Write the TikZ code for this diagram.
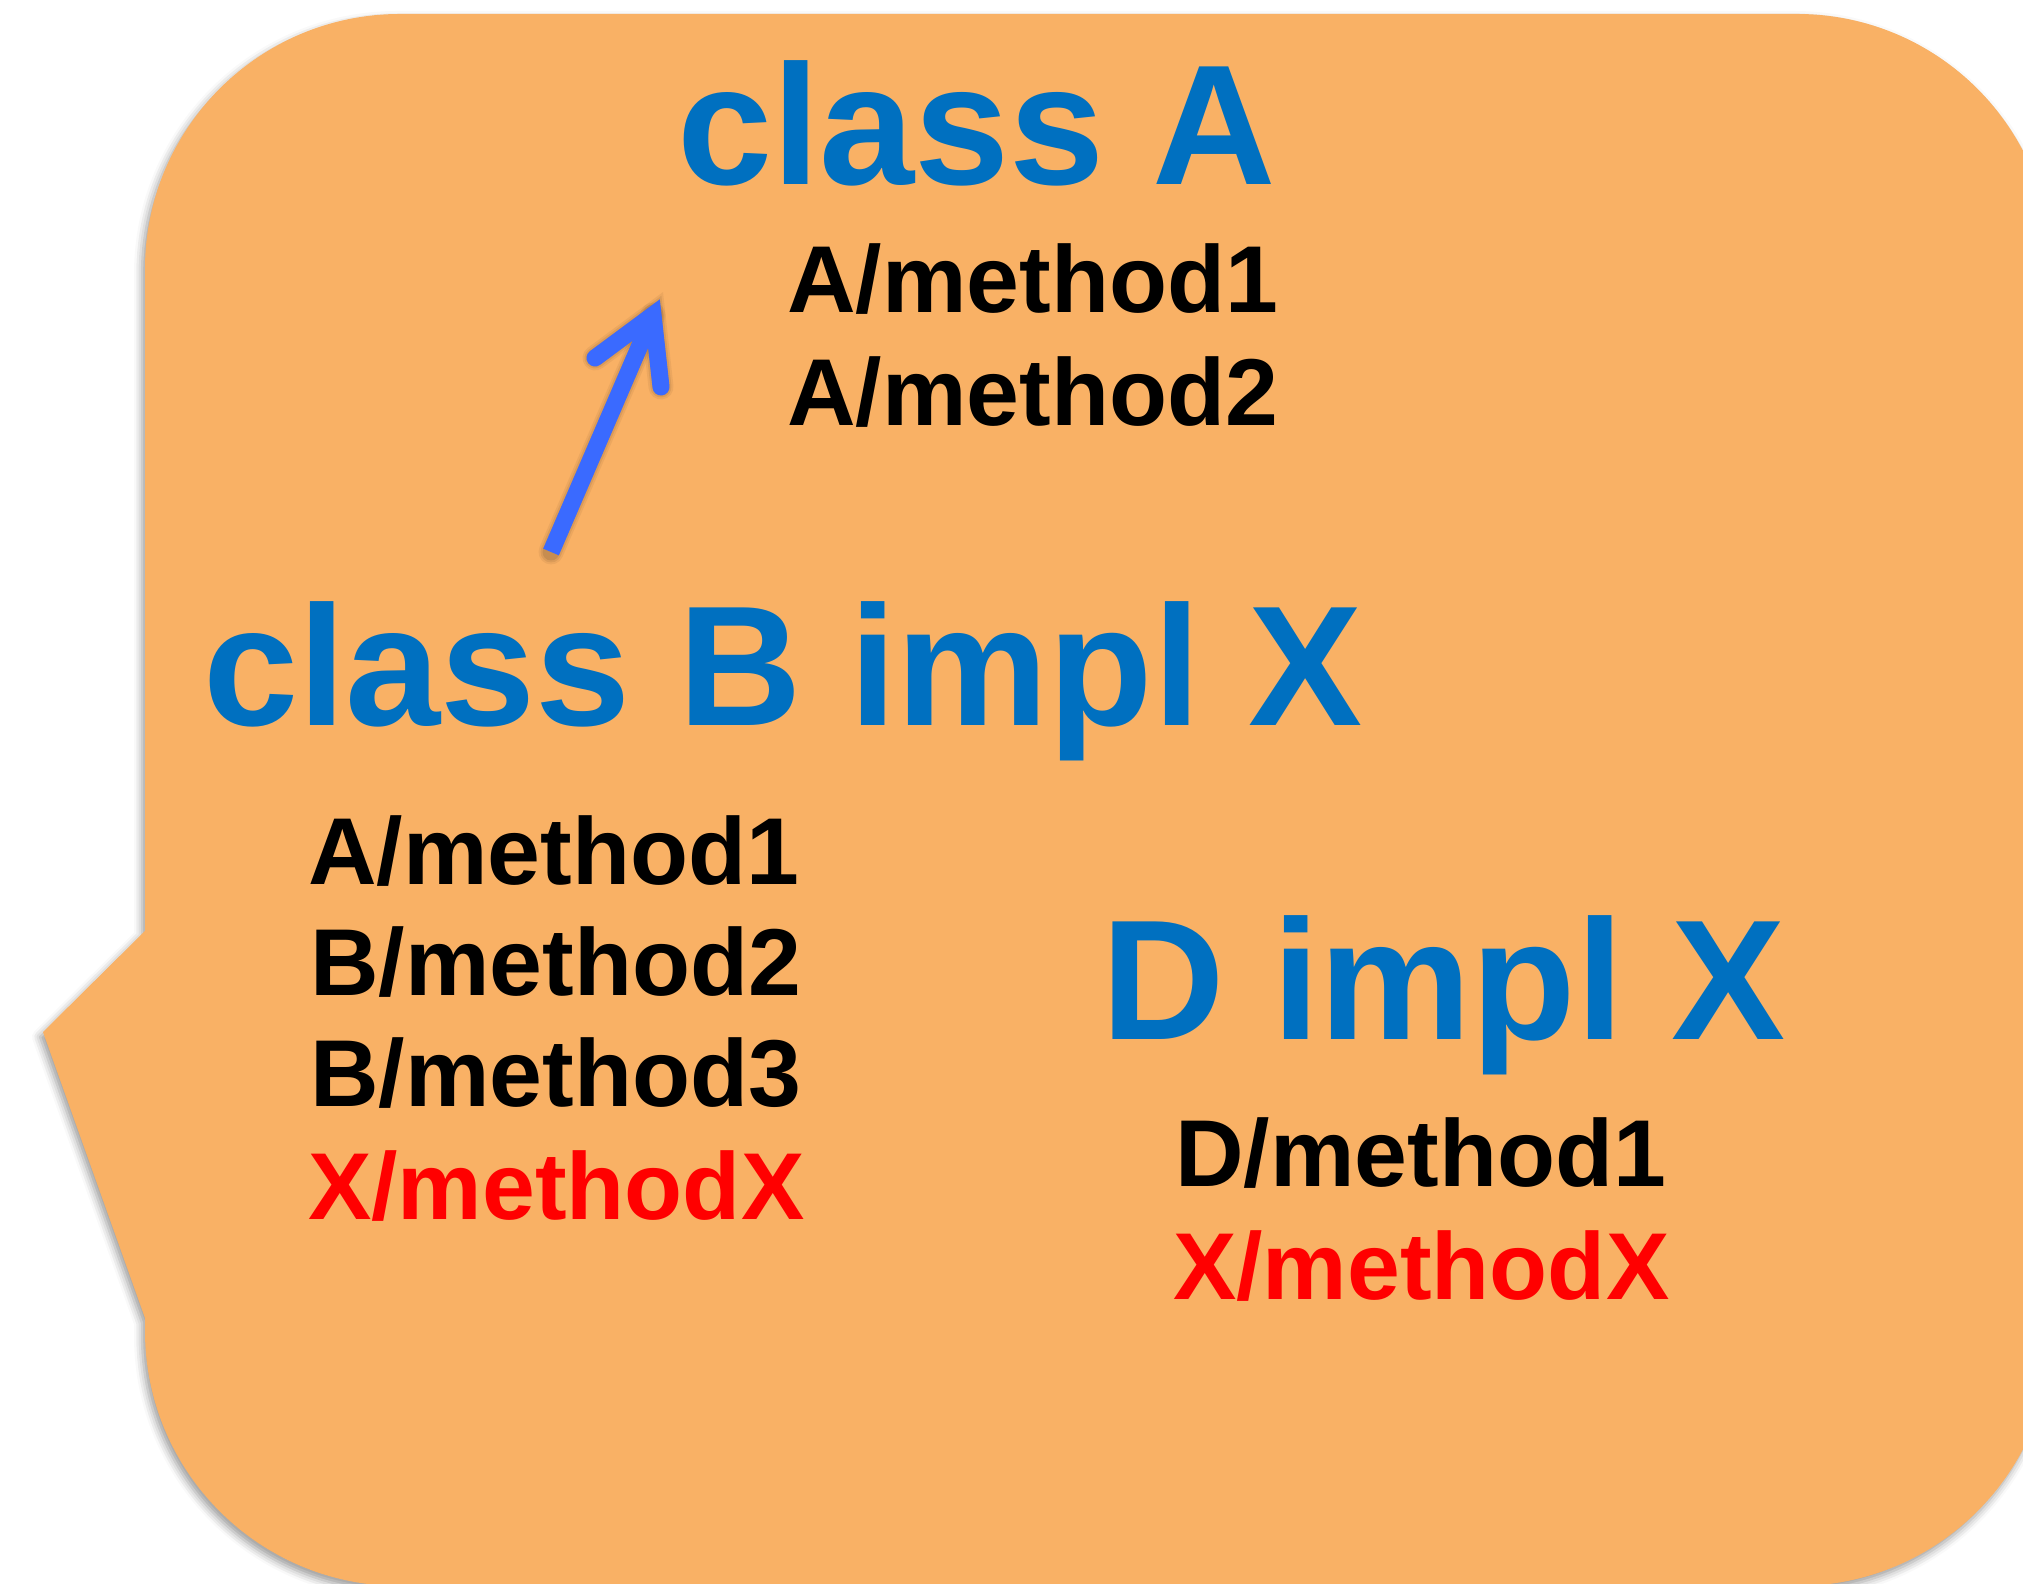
\documentclass[tikz,border=0pt]{standalone}
\usepackage{fontspec}
\setmainfont{Liberation Sans}
\usetikzlibrary{shadows.blur}

\definecolor{calloutfill}{HTML}{F9B165}
\definecolor{headblue}{HTML}{0070C0}
\definecolor{arrowblue}{HTML}{3A6AFF}
\definecolor{overred}{HTML}{FF0000}

\begin{document}
\begin{tikzpicture}[x=1pt, y=1pt,
  head/.style={anchor=base west, inner sep=0pt, text=headblue,
               font=\fontsize{171}{171}\selectfont\bfseries},
  meth/.style={anchor=base west, inner sep=0pt, text=black,
               font=\fontsize{95}{95}\selectfont\bfseries},
  over/.style={meth, text=overred},
  link/.style={draw=arrowblue, line width=17pt}
]
\useasboundingbox (0,0) rectangle (2023,1583);

% speech-bubble shaped panel with a notch on the left
\path[fill=calloutfill,
      blur shadow={shadow xshift=-3pt, shadow yshift=-5pt,
                   shadow blur radius=8pt, shadow opacity=40}]
  (145,652) -- (145,1314) arc[start angle=180, end angle=90, radius=255]
  -- (1797,1569) arc[start angle=90, end angle=0, radius=255]
  -- (2052,252) arc[start angle=0, end angle=-90, radius=255]
  -- (400,-3) arc[start angle=270, end angle=180, radius=255]
  -- (145,265) -- (43,551) -- cycle;

% class A and its methods
\node[head] (classA) at (677,1398) {class A};
\node[meth] (am1) at (787,1270) {A/method1};
\node[meth] (am2) at (787,1157) {A/method2};

% class B implementing X
\node[head] (classB) at (203,857) {class B impl X};
\node[meth] (bm1) at (308,698) {A/method1};
\node[meth] (bm2) at (310,587) {B/method2};
\node[meth] (bm3) at (310,476) {B/method3};
\node[over] (bmx) at (308,364) {X/methodX};

% D implementing X
\node[head] (dimpl) at (1101,543) {D impl X};
\node[meth] (dm1) at (1175,396) {D/method1};
\node[over] (dmx) at (1173,284) {X/methodX};

% inheritance arrow from B up towards A
\coordinate (tail) at (551,1031);
\coordinate (tip)  at (653,1268);
\coordinate (barbL) at (595,1225);
\coordinate (barbR) at (661,1196);

% soft shadow under the arrow
\begin{scope}[shift={(-3,-5)}]
  \foreach \w/\o in {25/0.05, 21/0.07, 17/0.09}{
    \draw[draw=black, opacity=\o, line width=\w pt, line cap=round] (tail) -- (tip);
    \draw[draw=black, opacity=\o, line width=\w pt, line cap=round, line join=miter]
      (barbL) -- (tip) -- (barbR);
  }
\end{scope}

\draw[link, line cap=butt] (tail) -- (tip);
\draw[link, line cap=round, line join=miter] (barbL) -- (tip) -- (barbR);
\end{tikzpicture}
\end{document}
